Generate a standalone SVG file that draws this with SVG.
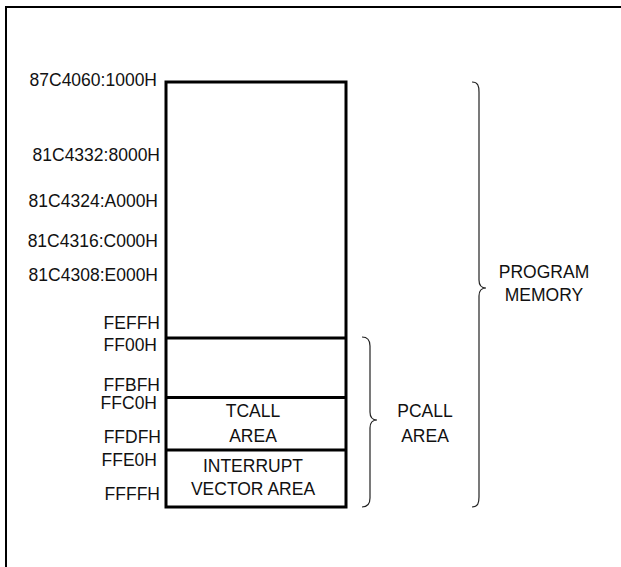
<svg xmlns="http://www.w3.org/2000/svg" width="621" height="567" viewBox="0 0 621 567">
<style>
text { font-family: "Liberation Sans", Arial, sans-serif; font-size: 17.5px; fill: #111; }
.lbl { text-anchor: end; }
.ctr { text-anchor: middle; }
.box { fill: #fff; stroke: #000; stroke-width: 3; }
.div { stroke: #000; stroke-width: 3; }
.brace { fill: none; stroke: #222; stroke-width: 1.2; }
.frame { stroke: #000; stroke-width: 2; fill: none; }
</style>
<rect width="621" height="567" fill="#fff"/>
<path class="frame" d="M5,7 H621 M6,7 V567"/>
<g id="memory">
  <rect class="box" x="166" y="82" width="180" height="425"/>
  <line class="div" x1="166" y1="338" x2="346" y2="338"/>
  <line class="div" x1="166" y1="397.5" x2="346" y2="397.5"/>
  <line class="div" x1="166" y1="450" x2="346" y2="450"/>
</g>
<g id="addresses">
  <text class="lbl" x="157" y="85.5">87C4060:1000H</text>
  <text class="lbl" x="160" y="161">81C4332:8000H</text>
  <text class="lbl" x="158" y="206.5">81C4324:A000H</text>
  <text class="lbl" x="158" y="246.5">81C4316:C000H</text>
  <text class="lbl" x="158" y="280.5">81C4308:E000H</text>
  <text class="lbl" x="160" y="328.5">FEFFH</text>
  <text class="lbl" x="157" y="350.5">FF00H</text>
  <text class="lbl" x="160" y="390.5">FFBFH</text>
  <text class="lbl" x="157" y="409">FFC0H</text>
  <text class="lbl" x="161" y="443">FFDFH</text>
  <text class="lbl" x="157" y="466">FFE0H</text>
  <text class="lbl" x="160" y="500">FFFFH</text>
</g>
<g id="tcall">
  <text class="ctr" x="253" y="417">TCALL</text>
  <text class="ctr" x="253" y="442">AREA</text>
</g>
<g id="interrupt">
  <text class="ctr" x="253" y="472">INTERRUPT</text>
  <text class="ctr" x="253" y="495">VECTOR AREA</text>
</g>
<g id="connectors">
  <path class="brace" d="M362,337 C368,337 370,340 370,346 L370,412 C370,417 372,420 377,420 C372,420 370,423 370,428 L370,498 C370,504 368,507 362,507"/>
  <path class="brace" d="M472,82 C478,82 479,86 479,92 L479,280 C479,285 481,288 486,288 C481,288 479,291 479,296 L479,497 C479,503 478,507 472,507"/>
</g>
<g id="pcall">
  <text class="ctr" x="425" y="417">PCALL</text>
  <text class="ctr" x="425" y="442">AREA</text>
</g>
<g id="program">
  <text class="ctr" x="544" y="278">PROGRAM</text>
  <text class="ctr" x="544" y="301">MEMORY</text>
</g>
</svg>
